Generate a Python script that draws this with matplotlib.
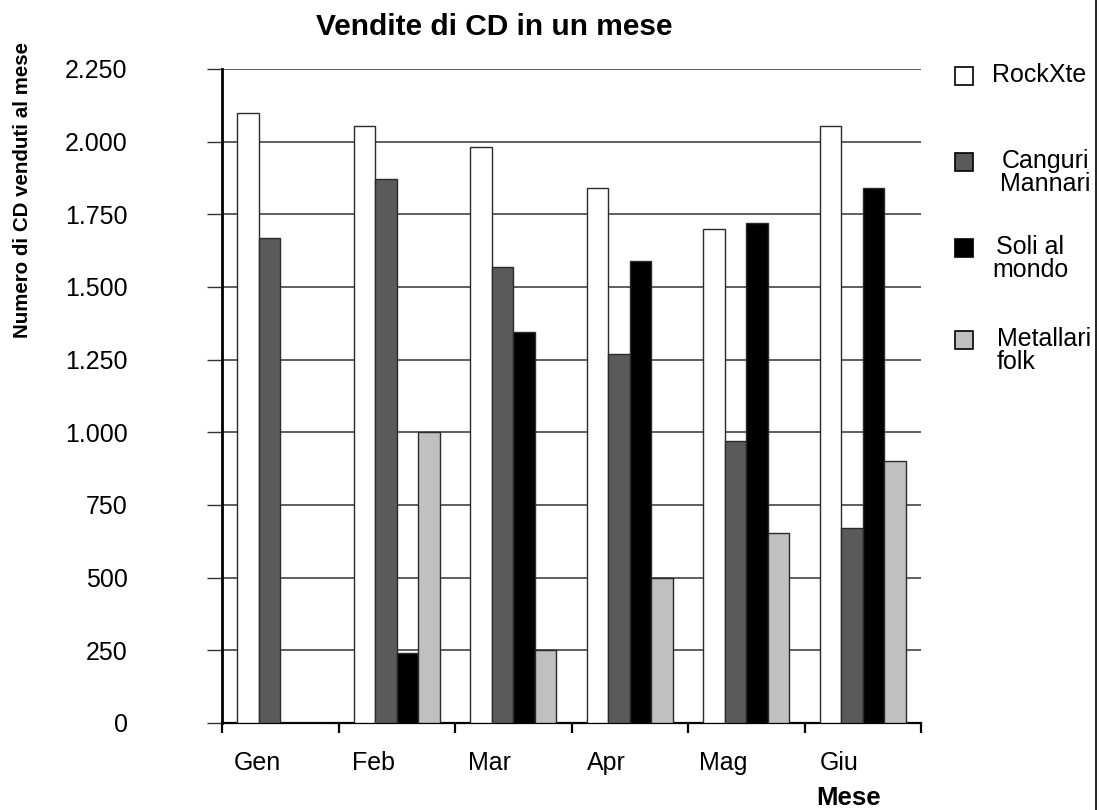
import matplotlib
matplotlib.use("Agg")
import matplotlib.pyplot as plt
import numpy as np
from matplotlib.patches import Rectangle
from matplotlib.lines import Line2D
from matplotlib.ticker import FuncFormatter, FixedLocator

plt.rcParams['font.family'] = ['Liberation Sans', 'DejaVu Sans']

# Vendite mensili per gruppo
mesi = ["Gen", "Feb", "Mar", "Apr", "Mag", "Giu"]
rockxte = [2100, 2055, 1980, 1840, 1700, 2055]
canguri_mannari = [1670, 1870, 1570, 1270, 970, 670]
soli_al_mondo = [0, 240, 1345, 1590, 1720, 1840]
metallari_folk = [0, 1000, 250, 500, 655, 900]

serie = [rockxte, canguri_mannari, soli_al_mondo, metallari_folk]
etichette = ["RockXte", "Canguri\nMannari", "Soli al\nmondo", "Metallari\nfolk"]
colori = ["#ffffff", "#5a5a5a", "#000000", "#c0c0c0"]
y_ticks = np.arange(0, 2251, 250)

W, H = 1099, 810
fig = plt.figure(figsize=(W / 100, H / 100), dpi=100)
ax = fig.add_axes([222 / W, 1 - 723 / H, (921 - 222) / W, (723 - 69) / H])

x = np.arange(len(mesi))
bw = 0.185
for i, (vals, col) in enumerate(zip(serie, colori)):
    ax.bar(x + (i - 1.5) * bw, vals, width=bw, color=col,
           edgecolor="#2a2a2a", linewidth=1.0, zorder=3)

ax.set_xlim(-0.5, len(mesi) - 0.5)
ax.set_ylim(0, 2250)

# griglia orizzontale
ax.set_yticks(y_ticks)
ax.yaxis.set_major_formatter(FuncFormatter(lambda v, p: f"{int(v):,}".replace(",", ".")))
ax.grid(axis="y", color="#333333", linewidth=1.1, zorder=0)
ax.tick_params(axis="y", direction="out", length=11, width=1, color="#333333",
               pad=57, labelsize=18)

# etichette dei mesi spostate a sinistra, tacche tra i gruppi
ax.xaxis.set_major_locator(FixedLocator(x - 0.2))
ax.set_xticklabels(mesi)
ax.xaxis.set_minor_locator(FixedLocator(np.arange(-0.5, len(mesi), 1.0)))
ax.tick_params(axis="x", which="major", length=0, pad=20, labelsize=18)
ax.tick_params(axis="x", which="minor", direction="out", length=7, width=1.6, color="black")

for s in ["top", "right"]:
    ax.spines[s].set_visible(False)
ax.spines["left"].set_linewidth(2.0)
ax.spines["bottom"].set_linewidth(1.6)
ax.spines["left"].set_zorder(4)

fig.text(494 / W, 1 - 27 / H, "Vendite di CD in un mese", fontsize=21.5,
         fontweight="bold", ha="center", va="center")
fig.text(23 / W, 1 - 190 / H, "Numero di CD venduti al mese", fontsize=14.8,
         fontweight="bold", rotation=90, ha="center", va="center")
fig.text(849 / W, 1 - 798 / H, "Mese", fontsize=18.5, fontweight="bold",
         ha="center", va="center")

# legenda a destra
leg_y = [76, 162, 248, 340]
leg_x = [992, 1000, 992, 997]
leg_align = ["left", "center", "center", "left"]
passo_riga = 23
for lab, col, yc, xt, al in zip(etichette, colori, leg_y, leg_x, leg_align):
    fig.patches.append(Rectangle((955 / W, 1 - (yc + 8.5) / H), 18 / W, 17 / H,
                                 transform=fig.transFigure, facecolor=col,
                                 edgecolor="black", linewidth=1.2))
    n = lab.count("\n")
    fig.text(xt / W, 1 - (yc + 6 + passo_riga * n) / H, lab, fontsize=18,
             ha="left", va="baseline", multialignment=al, linespacing=0.95)

fig.add_artist(Line2D([1096 / W, 1096 / W], [0, 1], transform=fig.transFigure,
                      color="black", linewidth=1.2))

fig.savefig("out.png", dpi=100)
